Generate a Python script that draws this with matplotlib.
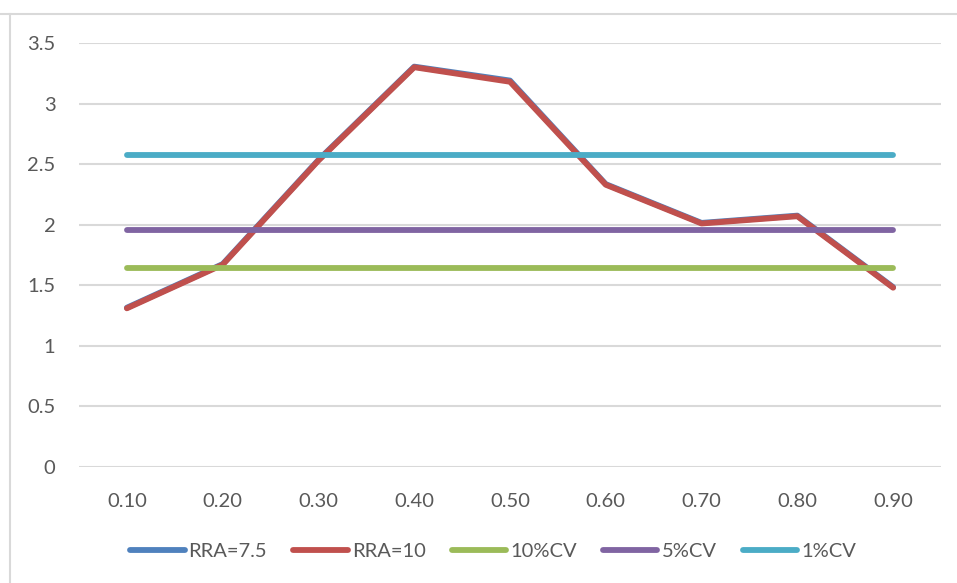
import numpy as np
import matplotlib.pyplot as plt
from matplotlib.lines import Line2D

# ─── DATA ────────────────────────────────────────────────────
categorias = ['0.10', '0.20', '0.30', '0.40', '0.50', '0.60', '0.70', '0.80', '0.90']

rra_75 = [1.315, 1.675, 2.535, 3.305, 3.19, 2.335, 2.015, 2.075, 1.485]
rra_10 = [1.31, 1.67, 2.53, 3.30, 3.18, 2.33, 2.01, 2.07, 1.48]

cv_10 = [1.645, 1.645, 1.645, 1.645, 1.645, 1.645, 1.645, 1.645, 1.645]
cv_5 = [1.96, 1.96, 1.96, 1.96, 1.96, 1.96, 1.96, 1.96, 1.96]
cv_1 = [2.576, 2.576, 2.576, 2.576, 2.576, 2.576, 2.576, 2.576, 2.576]

y_ticks = [0, 0.5, 1, 1.5, 2, 2.5, 3, 3.5]
y_labels = ['0', '0.5', '1', '1.5', '2', '2.5', '3', '3.5']

# ─── ESTILO ──────────────────────────────────────────────────
plt.rcParams['font.family'] = ['Lato', 'DejaVu Sans']
TXT = '#595959'
GRID = '#d9d9d9'

series = [
    ('RRA=7.5', rra_75, '#4F81BD'),
    ('RRA=10', rra_10, '#C0504D'),
    ('10%CV', cv_10, '#9BBB59'),
    ('5%CV', cv_5, '#8064A2'),
    ('1%CV', cv_1, '#4BACC6'),
]

fig = plt.figure(figsize=(9.57, 5.83), dpi=100)
ax = fig.add_axes([79 / 957, 116 / 583, 862 / 957, 424 / 583])

x = np.arange(len(categorias))
for nombre, valores, color in series:
    ax.plot(x, valores, color=color, linewidth=4.2, label=nombre,
            solid_capstyle='round', solid_joinstyle='round', zorder=3)

ax.set_xlim(-0.5, len(categorias) - 0.5)
ax.set_ylim(0, 3.5)
ax.set_xticks(x)
ax.set_xticklabels(categorias)
ax.set_yticks(y_ticks)
ax.set_yticklabels(y_labels)
ax.tick_params(axis='both', length=0, labelsize=14.5, colors=TXT)
ax.tick_params(axis='x', pad=19)
ax.tick_params(axis='y', pad=17)
ax.yaxis.grid(True, color=GRID, linewidth=1.5)
ax.set_axisbelow(True)
for s in ax.spines.values():
    s.set_visible(False)

leg = ax.legend(loc='center', bbox_to_anchor=(493 / 957, 32 / 583),
                bbox_transform=fig.transFigure, ncol=5, frameon=False,
                fontsize=14.5, handlelength=2.7, handletextpad=0.2,
                columnspacing=1.3)
for t in leg.get_texts():
    t.set_color(TXT)
for h in leg.get_lines():
    h.set_linewidth(4.2)
    h.set_solid_capstyle('round')

# marco del área del gráfico
fig.add_artist(Line2D([0, 1], [1 - 14 / 583, 1 - 14 / 583],
                      transform=fig.transFigure, color=GRID, linewidth=1.5))
fig.add_artist(Line2D([10 / 957, 10 / 957], [0, 1 - 14 / 583],
                      transform=fig.transFigure, color=GRID, linewidth=1.5))

fig.savefig('out.png', dpi=100)
